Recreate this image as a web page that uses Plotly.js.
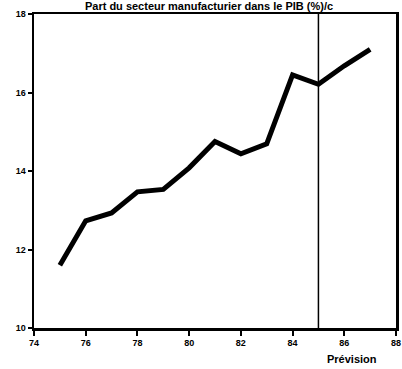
<!DOCTYPE html>
<html>
<head>
<meta charset="utf-8">
<script src="https://cdn.plot.ly/plotly-3.0.1.min.js"></script>
<style>html,body{margin:0;padding:0;background:#fff;}#chart{width:402px;height:369px;}</style>
</head>
<body>
<div id="chart"></div>
<script>
var years = [75, 76, 77, 78, 79, 80, 81, 82, 83, 84, 85, 86, 87];
var share = [11.6, 12.73, 12.93, 13.47, 13.53, 14.08, 14.75, 14.44, 14.69, 16.45, 16.21, 16.68, 17.1];
var forecastStart = 85;
var xTicks = [74, 76, 78, 80, 82, 84, 86, 88];
var yTicks = [10, 12, 14, 16, 18];
var titleText = "Part du secteur manufacturier dans le PIB (%)/c";
var forecastLabel = "Prévision";

var data = [{
  x: years, y: share, type: 'scatter', mode: 'lines',
  line: {color: '#000', width: 5}, hoverinfo: 'skip'
}];

var layout = {
  width: 402, height: 369,
  margin: {l: 34, r: 6, t: 14, b: 41},
  paper_bgcolor: '#fff', plot_bgcolor: '#fff',
  showlegend: false,
  font: {family: 'Liberation Sans, Arial, sans-serif', color: '#000', size: 9},
  title: {text: '<b>' + titleText + '</b>', x: 0.52, xanchor: 'center', y: 0.993, yanchor: 'top', yref: 'container',
          pad: {t: 0, b: 0, l: 0, r: 0},
          font: {size: 11, color: '#000', family: 'Liberation Sans, Arial, sans-serif'}},
  xaxis: {range: [74, 88], tickvals: xTicks, ticktext: xTicks.map(function(v){return '<b>'+v+'</b>';}),
          showgrid: false, zeroline: false, showline: true, linewidth: 2.5, linecolor: '#000', mirror: true,
          ticks: 'outside', ticklen: 5, tickwidth: 2, tickcolor: '#000', tickfont: {size: 9}},
  yaxis: {range: [10, 18], tickvals: yTicks, ticktext: yTicks.map(function(v){return '<b>'+v+'</b>';}),
          showgrid: false, zeroline: false, showline: true, linewidth: 2.5, linecolor: '#000', mirror: true,
          ticks: 'outside', ticklen: 4, tickwidth: 2, tickcolor: '#000', tickfont: {size: 9}},
  shapes: [{type: 'line', xref: 'x', yref: 'paper', x0: forecastStart, x1: forecastStart, y0: 0, y1: 1,
            line: {color: '#000', width: 1.5}}],
  annotations: [
    {text: '<b>' + forecastLabel + '</b>', xref: 'x', yref: 'paper', x: 86.3, y: 0, yshift: -23,
     xanchor: 'center', yanchor: 'top', showarrow: false, font: {size: 11, color: '#000'}}
  ]
};

Plotly.newPlot('chart', data, layout, {staticPlot: true, displayModeBar: false});
</script>
</body>
</html>
